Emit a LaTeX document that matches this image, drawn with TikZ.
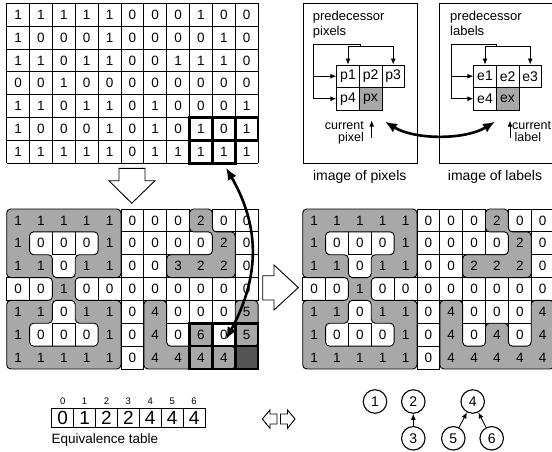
\documentclass[tikz,border=0pt]{standalone}
\usepackage{fontspec}
\setmainfont{Liberation Sans}
\usetikzlibrary{arrows.meta}
\definecolor{regiongray}{RGB}{168,168,168}
\definecolor{darkcell}{RGB}{85,85,85}
\newcommand\gnumfont{\fontsize{13.5}{14}\selectfont}
\def\topdata{{1,1,1,1,1,0,0,0,1,0,0},{1,0,0,0,1,0,0,0,0,1,0},{1,1,0,1,1,0,0,1,1,1,0},{0,0,1,0,0,0,0,0,0,0,0},{1,1,0,1,1,0,1,0,0,0,1},{1,0,0,0,1,0,1,0,1,0,1},{1,1,1,1,1,0,1,1,1,1,1}}
\def\bldata{{1,1,1,1,1,0,0,0,2,0,0},{1,0,0,0,1,0,0,0,0,2,0},{1,1,0,1,1,0,0,3,2,2,0},{0,0,1,0,0,0,0,0,0,0,0},{1,1,0,1,1,0,4,0,0,0,5},{1,0,0,0,1,0,4,0,6,0,5},{1,1,1,1,1,0,4,4,4,4}}
\def\brdata{{1,1,1,1,1,0,0,0,2,0,0},{1,0,0,0,1,0,0,0,0,2,0},{1,1,0,1,1,0,0,2,2,2,0},{0,0,1,0,0,0,0,0,0,0,0},{1,1,0,1,1,0,4,0,0,0,4},{1,0,0,0,1,0,4,0,4,0,4},{1,1,1,1,1,0,4,4,4,4,4}}
\begin{document}
\begin{tikzpicture}[x=1pt,y=-1pt,
  gridline/.style={line width=0.8pt},
  cellnum/.style={font=\gnumfont, inner sep=0pt},
  region/.style={fill=regiongray, draw=black, line width=0.9pt, rounded corners=4pt},
  hole/.style={fill=white, draw=black, line width=0.9pt, rounded corners=4pt},
  window/.style={line width=2.6pt, line join=miter},
  bigarrow/.style={line width=2.6pt, {Latex[length=12pt,width=10pt]}-{Latex[length=12pt,width=10pt]}},
  smallarrow/.style={line width=0.9pt, -{Latex[length=6pt,width=5pt]}},
  blockarrow/.style={draw, line width=0.9pt, fill=white, line join=miter},
  pcell/.style={draw, line width=0.8pt, minimum width=22.6pt, minimum height=22.5pt, inner sep=0pt, font=\fontsize{14}{15}\selectfont},
  boxframe/.style={draw, line width=0.9pt, inner sep=0pt, anchor=north west},
  smalltext/.style={font=\fontsize{13}{14}\selectfont, inner sep=0pt},
  captext/.style={font=\fontsize{14}{15}\selectfont, inner sep=0pt},
  eqcell/.style={draw, line width=0.9pt, minimum width=21.9pt, minimum height=19.4pt, inner sep=0pt, font=\fontsize{19}{20}\selectfont},
  idxtext/.style={font=\fontsize{9.5}{10}\selectfont, inner sep=0pt},
  treenode/.style={draw, circle, line width=1.1pt, minimum size=23.5pt, inner sep=0pt, font=\fontsize{14}{15}\selectfont}
]
\useasboundingbox (0,0) rectangle (552,452);

% ---------------- top grid (pixels) ----------------
\begin{scope}[shift={(6.7,3.3)}, x=22.85pt, y=-22.85pt]
  \foreach \k in {0,...,11} \draw[gridline] (\k,0) -- (\k,7);
  \foreach \k in {0,...,7} \draw[gridline] (0,\k) -- (11,\k);
  \foreach \r [count=\i from 0] in \topdata {
    \foreach \v [count=\j from 0] in \r {
      \node[cellnum] (tg-\i-\j) at (\j+.5,\i+.5) {\v};
    }
  }
  \draw[window] (8,5) rectangle (11,6) (8,6) rectangle (10,7) (9,5) -- (9,7) (10,5) -- (10,6);
  \coordinate (winTop) at (9.6,7.2);
\end{scope}

% ---------------- bottom-left grid (first pass labels) ----------------
\begin{scope}[shift={(6.7,209)}, x=22.85pt, y=-22.85pt]
  \foreach \r [count=\i from 0] in \bldata {
    \foreach \v [count=\j from 0] in \r {
      \ifnum\v=0 \draw[gridline] (\j,\i) rectangle ++(1,1);\fi
    }
  }
  % region 1
  \draw[region] (0,0) -- (5,0) -- (5,3) -- (3,3) -- (3,4) -- (5,4) -- (5,7) -- (0,7) -- (0,4) -- (2,4) -- (2,3) -- (0,3) -- cycle;
  \draw[hole] (1,1) -- (4,1) -- (4,2) -- (3,2) -- (3,3) -- (2,3) -- (2,2) -- (1,2) -- cycle;
  \draw[hole] (2,4) -- (3,4) -- (3,5) -- (4,5) -- (4,6) -- (1,6) -- (1,5) -- (2,5) -- cycle;
  \begin{scope}
    \clip[rounded corners=4pt] (1,1) -- (4,1) -- (4,2) -- (3,2) -- (3,3) -- (2,3) -- (2,2) -- (1,2) -- cycle;
    \draw[gridline] (2,1) -- (2,2) -- (3,2) -- (3,1);
  \end{scope}
  \begin{scope}
    \clip[rounded corners=4pt] (2,4) -- (3,4) -- (3,5) -- (4,5) -- (4,6) -- (1,6) -- (1,5) -- (2,5) -- cycle;
    \draw[gridline] (2,6) -- (2,5) -- (3,5) -- (3,6);
  \end{scope}
  % region 2 (labels 2,3)
  \draw[region] (8,0) -- (9,0) -- (9,1) -- (10,1) -- (10,3) -- (7,3) -- (7,2) -- (9,2) -- (9,1) -- (8,1) -- cycle;
  % region 4
  \draw[region] (6,4) -- (7,4) -- (7,6) -- (10,6) -- (10,7) -- (6,7) -- cycle;
  \draw[region] (8,5) rectangle (9,6);
  \draw[region] (10,4) -- (11,4) -- (11,6) -- (10,6) -- cycle;
  \fill[darkcell] (10,6) rectangle (11,7);
  \foreach \r [count=\i from 0] in \bldata {
    \foreach \v [count=\j from 0] in \r {
      \node[cellnum] (bl-\i-\j) at (\j+.5,\i+.5) {\v};
    }
  }
  \draw[window] (8,5) rectangle (11,7) (8,6) -- (11,6) (9,5) -- (9,7) (10,5) -- (10,7);
  \coordinate (winBot) at (9.6,5.7);
\end{scope}

% ---------------- bottom-right grid (resolved labels) ----------------
\begin{scope}[shift={(302.7,209)}, x=22.85pt, y=-22.85pt]
  \foreach \r [count=\i from 0] in \brdata {
    \foreach \v [count=\j from 0] in \r {
      \ifnum\v=0 \draw[gridline] (\j,\i) rectangle ++(1,1);\fi
    }
  }
  \draw[region] (0,0) -- (5,0) -- (5,3) -- (3,3) -- (3,4) -- (5,4) -- (5,7) -- (0,7) -- (0,4) -- (2,4) -- (2,3) -- (0,3) -- cycle;
  \draw[hole] (1,1) -- (4,1) -- (4,2) -- (3,2) -- (3,3) -- (2,3) -- (2,2) -- (1,2) -- cycle;
  \draw[hole] (2,4) -- (3,4) -- (3,5) -- (4,5) -- (4,6) -- (1,6) -- (1,5) -- (2,5) -- cycle;
  \begin{scope}
    \clip[rounded corners=4pt] (1,1) -- (4,1) -- (4,2) -- (3,2) -- (3,3) -- (2,3) -- (2,2) -- (1,2) -- cycle;
    \draw[gridline] (2,1) -- (2,2) -- (3,2) -- (3,1);
  \end{scope}
  \begin{scope}
    \clip[rounded corners=4pt] (2,4) -- (3,4) -- (3,5) -- (4,5) -- (4,6) -- (1,6) -- (1,5) -- (2,5) -- cycle;
    \draw[gridline] (2,6) -- (2,5) -- (3,5) -- (3,6);
  \end{scope}
  \draw[region] (8,0) -- (9,0) -- (9,1) -- (10,1) -- (10,3) -- (7,3) -- (7,2) -- (9,2) -- (9,1) -- (8,1) -- cycle;
  \draw[region] (6,4) -- (7,4) -- (7,6) -- (8,6) -- (8,5) -- (9,5) -- (9,6) -- (10,6) -- (10,4) -- (11,4) -- (11,7) -- (6,7) -- cycle;
  \foreach \r [count=\i from 0] in \brdata {
    \foreach \v [count=\j from 0] in \r {
      \node[cellnum] (br-\i-\j) at (\j+.5,\i+.5) {\v};
    }
  }
\end{scope}

% ---------------- block arrows ----------------
\draw[blockarrow] (119,168.3) -- (145,168.3) -- (145,180.7) -- (155,180.7) -- (131.7,203.3) -- (109,180.7) -- (119,180.7) -- cycle;
\draw[blockarrow] (262.7,275.7) -- (274,275.7) -- (274,265) -- (298.3,287.6) -- (274,310) -- (274,300) -- (262.7,300) -- cycle;

% big curved double arrow between the windows
\draw[bigarrow] (winTop) .. controls (262,230) and (258,280) .. (winBot);

% ---------------- image of pixels box ----------------
\node[boxframe, minimum width=114pt, minimum height=160pt] (pixbox) at (302.7,3.3) {};
\node[smalltext, anchor=base west] (predpix1) at (312.7,20.5) {predecessor};
\node[smalltext, anchor=base west] (predpix2) at (312.7,36) {pixels};
\node[pcell] (p1) at (348,76.2) {p1};
\node[pcell] (p2) at (370.6,76.2) {p2};
\node[pcell] (p3) at (393.2,76.2) {p3};
\node[pcell] (p4) at (348,98.7) {p4};
\node[pcell, fill=regiongray] (px) at (370.6,98.7) {px};
\coordinate (pa) at (313.3,44);
\coordinate (pb) at (360,44);
\coordinate (pc) at (360,46.5);
\coordinate (pd) at (348,46.5);
\coordinate (pe) at (393.2,46.5);
\draw[line width=0.9pt] (p4.west -| pa) -- (pa) -- (pb) -- (pc);
\draw[line width=0.9pt] (pd) -- (pe);
\draw[smallarrow] (pd) -- (p1.north);
\draw[smallarrow] (pe) -- (p3.north);
\draw[smallarrow] (p1.west -| pa) -- (p1.west);
\draw[smallarrow] (p4.west -| pa) -- (p4.west);
\node[smalltext, anchor=base east, font=\fontsize{12.5}{13}\selectfont] (curpix1) at (364,129) {current};
\node[smalltext, anchor=base east, font=\fontsize{12.5}{13}\selectfont] (curpix2) at (364,141.5) {pixel};
\coordinate (cpa) at (371.7,137.5);
\coordinate (cpb) at (371.7,120.5);
\draw[smallarrow] (cpa) -- (cpb);
\node[captext] (cappix) at (359.7,177) {image of pixels};

% ---------------- image of labels box ----------------
\node[boxframe, minimum width=130pt, minimum height=160pt] (labbox) at (439.3,3.3) {};
\node[smalltext, anchor=base west] (predlab1) at (450,20.5) {predecessor};
\node[smalltext, anchor=base west] (predlab2) at (450,36) {labels};
\node[pcell] (e1) at (485,76.2) {e1};
\node[pcell] (e2) at (507.6,76.2) {e2};
\node[pcell] (e3) at (530.2,76.2) {e3};
\node[pcell] (e4) at (485,98.7) {e4};
\node[pcell, fill=regiongray] (ex) at (507.6,98.7) {ex};
\coordinate (la) at (451.7,44);
\coordinate (lb) at (496.7,44);
\coordinate (lc) at (496.7,46.5);
\coordinate (ld) at (485,46.5);
\coordinate (le) at (530.2,46.5);
\draw[line width=0.9pt] (e4.west -| la) -- (la) -- (lb) -- (lc);
\draw[line width=0.9pt] (ld) -- (le);
\draw[smallarrow] (ld) -- (e1.north);
\draw[smallarrow] (le) -- (e3.north);
\draw[smallarrow] (e1.west -| la) -- (e1.west);
\draw[smallarrow] (e4.west -| la) -- (e4.west);
\coordinate (cla) at (510,138.3);
\coordinate (clb) at (510,120.7);
\draw[smallarrow] (cla) -- (clb);
\node[smalltext, anchor=base west, font=\fontsize{12.5}{13}\selectfont] (curlab1) at (512,129) {current};
\node[smalltext, anchor=base west, font=\fontsize{12.5}{13}\selectfont] (curlab2) at (514.5,141.5) {label};
\node[captext] (caplab) at (495,177) {image of labels};

% curved double arrow between current pixel and current label
\coordinate (pxend) at (385,121.7);
\coordinate (exend) at (495,121.7);
\draw[bigarrow] (pxend) .. controls (415,140) and (465,140) .. (exend);

% ---------------- equivalence table ----------------
\foreach \v [count=\k from 0] in {0,1,2,2,4,4,4} {
  \node[eqcell] (eq-\k) at (62.65+21.9*\k,418) {\v};
  \node[idxtext] (ix-\k) at (62.65+21.9*\k,401.5) {\k};
}
\node[smalltext, anchor=west, font=\fontsize{13.5}{14}\selectfont] (eqlabel) at (51.5,440) {Equivalence table};

% double block arrow
\draw[blockarrow] (277,414) -- (270,414) -- (270,410) -- (262.3,419) -- (270,428.3) -- (270,424) -- (277,424) -- cycle;
\draw[blockarrow] (280.5,414) -- (287.5,414) -- (287.5,410) -- (295,419) -- (287.5,428.3) -- (287.5,424) -- (280.5,424) -- cycle;

% ---------------- label trees ----------------
\node[treenode] (c1) at (375,401.5) {1};
\node[treenode] (c2) at (413.3,401.5) {2};
\node[treenode] (c3) at (413.3,438.3) {3};
\node[treenode] (c4) at (472.7,401.5) {4};
\node[treenode] (c5) at (453.3,438.3) {5};
\node[treenode] (c6) at (491.7,438.3) {6};
\draw[smallarrow] (c3) -- (c2);
\draw[smallarrow] (c5) -- (c4);
\draw[smallarrow] (c6) -- (c4);
\end{tikzpicture}
\end{document}
